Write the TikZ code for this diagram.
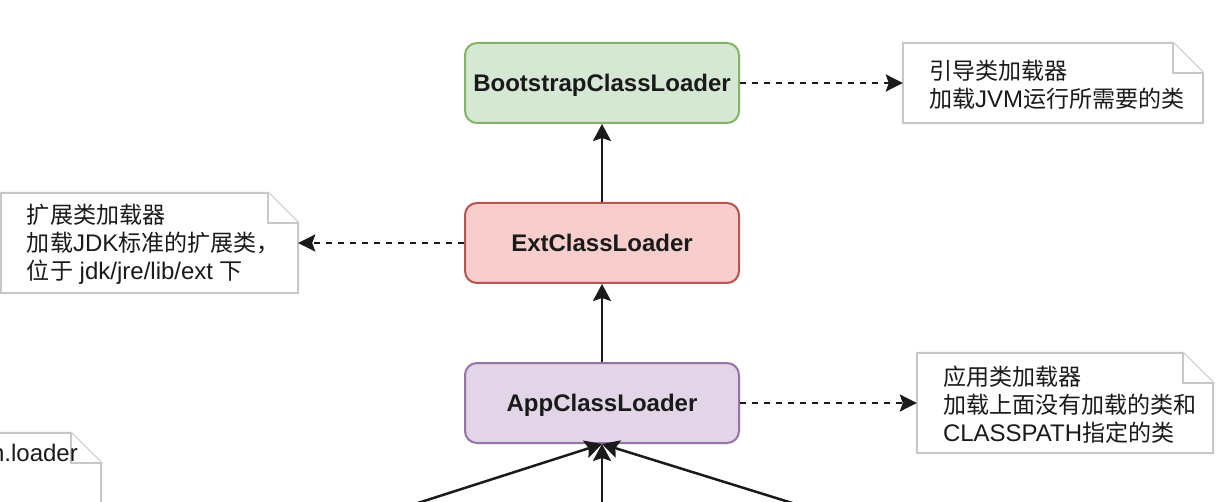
\documentclass[tikz,border=0pt]{standalone}
\usepackage{fontspec}
\setmainfont{Liberation Sans}
\newfontfamily\cjk{Noto Sans CJK SC}[Scale=0.96]
\newcommand\zh[1]{{\cjk #1}}
\usetikzlibrary{arrows.meta,calc}
\definecolor{gfill}{HTML}{D5E8D4}
\definecolor{gline}{HTML}{82B366}
\definecolor{rfill}{HTML}{F8CECC}
\definecolor{rline}{HTML}{B85450}
\definecolor{pfill}{HTML}{E1D5E7}
\definecolor{pline}{HTML}{9673A6}
\definecolor{noteline}{HTML}{C8C8C8}
\definecolor{ink}{HTML}{1A1A1A}
\newcommand\dogear[1]{%
  \draw[noteedge] (#1.north west) -- ($(#1.north east)+(-30,0)$) -- ($(#1.north east)+(0,30)$) -- (#1.south east) -- (#1.south west) -- cycle;
  \draw[noteedge] ($(#1.north east)+(-30,0)$) -- ($(#1.north east)+(-30,30)$) -- ($(#1.north east)+(0,30)$);}
\begin{document}
\begin{tikzpicture}[x=1pt,y=-1pt,
  loader/.style={draw, line width=2pt, rounded corners=12pt, minimum width=274pt, minimum height=80pt,
    font=\fontsize{24}{28}\selectfont\bfseries, text=ink, inner sep=0pt, text height=17.2pt, text depth=0pt},
  notebox/.style={draw=none, inner sep=0pt},
  noteedge/.style={draw=noteline, line width=2pt, fill=white, line join=miter},
  notetext/.style={font=\fontsize{24}{28}\selectfont, text=ink, align=left, inner sep=0pt},
  arr/.style={line width=2.5pt, draw=ink, -{Stealth[length=17pt,width=18pt,inset=3pt]}},
  darr/.style={arr, -{Stealth[length=17pt,width=17pt,inset=3pt]}, dash pattern=on 6pt off 6pt}]
\useasboundingbox (0,0) rectangle (1230,502);
\fill[white] (0,0) rectangle (1230,502);
\clip (0,0) rectangle (1230,502);

% notes
\node[notebox, minimum width=300pt, minimum height=80pt] (n1) at (1053,83) {};
\node[notebox, minimum width=297pt, minimum height=100pt] (n2) at (149.5,243) {};
\node[notebox, minimum width=296pt, minimum height=100pt] (n3) at (1065,403) {};
\node[notebox, minimum width=300pt, minimum height=120pt] (n4) at (-49,493) {};
\dogear{n1}
\dogear{n2}
\dogear{n3}
\dogear{n4}
\node[notetext, anchor=west] (t1) at ($(n1.west)+(26,2)$) {\zh{引导类加载器}\\\zh{加载}JVM\zh{运行所需要的类}};
\node[notetext, anchor=west] (t2) at ($(n2.west)+(26,1)$) {\zh{扩展类加载器}\\\zh{加载}JDK\zh{标准的扩展类，}\\\zh{位于} jdk/jre/lib/ext \zh{下}};
\node[notetext, anchor=west] (t3) at ($(n3.west)+(26,2)$) {\zh{应用类加载器}\\\zh{加载上面没有加载的类和}\\CLASSPATH\zh{指定的类}};
\node[notetext, anchor=base east] (t4) at (78,461) {n.loader};

% loaders
\node[loader, fill=gfill, draw=gline] (boot) at (602,83) {BootstrapClassLoader};
\node[loader, fill=rfill, draw=rline] (ext) at (602,243) {ExtClassLoader};
\node[loader, fill=pfill, draw=pline] (app) at (602,403) {AppClassLoader};

% connectors
\draw[arr] (ext) -- (boot);
\draw[arr] (app) -- (ext);
\draw[darr] (boot) -- (n1);
\draw[darr] (ext) -- (n2);
\draw[darr] (app) -- (n3);
\coordinate (s1) at (333.6,530);
\coordinate (s2) at (602,530);
\coordinate (s3) at (879.2,530);
\draw[arr] (s1) -- (app.south);
\draw[arr] (s2) -- (app.south);
\draw[arr] (s3) -- (app.south);
\end{tikzpicture}
\end{document}
